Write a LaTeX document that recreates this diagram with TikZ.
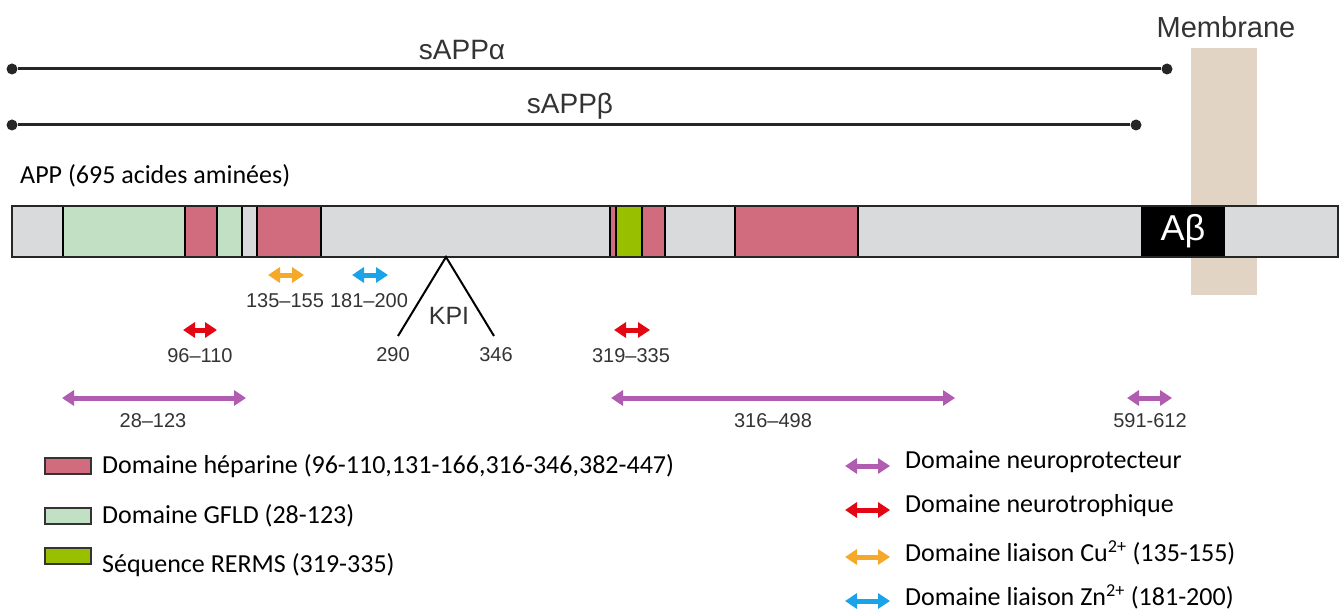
\documentclass[tikz,border=0pt]{standalone}
\usepackage{fontspec}
\setmainfont{Carlito}
\newfontfamily\arialfont{Liberation Sans}
\usetikzlibrary{arrows.meta}
\definecolor{hepcol}{RGB}{208,108,125}
\definecolor{gfldcol}{RGB}{194,224,196}
\definecolor{rermscol}{RGB}{153,192,0}
\definecolor{barcol}{RGB}{217,218,220}
\definecolor{memcol}{RGB}{226,212,196}
\definecolor{cucol}{RGB}{246,168,40}
\definecolor{zncol}{RGB}{26,163,232}
\definecolor{trocol}{RGB}{227,6,19}
\definecolor{procol}{RGB}{176,92,176}
\definecolor{labcol}{RGB}{51,51,51}
\tikzset{
  dom/.style={draw=black, line width=1.5pt},
  dblarrow/.style={line width=5pt, {Triangle[length=12pt,width=15pt]}-{Triangle[length=12pt,width=15pt]}},
  numlab/.style={font=\arialfont\fontsize{20}{20}\selectfont, text=labcol},
  leglab/.style={font=\fontsize{26}{26}\selectfont, anchor=west, inner sep=0pt},
  legbox/.style={draw=black!80, line width=2pt, minimum width=46pt, minimum height=16pt, inner sep=0pt},
  fragline/.style={line width=3pt, black!85},
  enddot/.style={circle, fill=black!85, inner sep=0pt, minimum size=11pt}
}
\begin{document}
\begin{tikzpicture}[x=1pt,y=-1pt]
\useasboundingbox (0,0) rectangle (1343,612);
% membrane
\fill[memcol] (1191,48) rectangle (1257,295);
\node[font=\arialfont\fontsize{29}{29}\selectfont, text=labcol] (memlab) at (1226,27) {Membrane};
% fragments sAPP
\node[enddot] (sa1) at (12,69) {};
\node[enddot] (sa2) at (1167,69) {};
\draw[fragline] (sa1) -- (sa2);
\node[font=\arialfont\fontsize{28}{28}\selectfont, text=labcol] (salab) at (462,50) {sAPPα};
\node[enddot] (sb1) at (12,125) {};
\node[enddot] (sb2) at (1136,125) {};
\draw[fragline] (sb1) -- (sb2);
\node[font=\arialfont\fontsize{28}{28}\selectfont, text=labcol] (sblab) at (570,106) {sAPPβ};
% APP
\node[font=\fontsize{26}{26}\selectfont, anchor=west, inner sep=0pt] (applab) at (20,176) {APP (695 acides aminées)};
\fill[barcol] (12,206) rectangle (1338,257);
\foreach \a/\b/\c in {63/185/gfldcol, 185/217/hepcol, 217/242/gfldcol, 257/321/hepcol,
    610/616/hepcol, 616/642/rermscol, 642/665/hepcol, 735/858/hepcol, 1142/1224/black}{
  \draw[dom, fill=\c] (\a,206) rectangle (\b,257);
}
\draw[dom] (242,206) -- (242,257);
\node[font=\arialfont\fontsize{36}{36}\selectfont, text=white] (abeta) at (1183,231) {Aβ};
\draw[line width=2.5pt, black!85] (12,206) rectangle (1338,257);
% KPI
\coordinate (kpi) at (446,257);
\coordinate (kpiL) at (398,336);
\coordinate (kpiR) at (494,336);
\draw[line width=2pt] (kpiL) -- (kpi) -- (kpiR);
\node[font=\arialfont\fontsize{25}{25}\selectfont, text=labcol] (kpilab) at (449,316) {KPI};
\node[numlab] (n290) at (393,355) {290};
\node[numlab] (n346) at (496,355) {346};
% domaines (fleches)
\coordinate (cu1) at (268,275); \coordinate (cu2) at (304,275);
\draw[dblarrow, cucol] (cu1) -- (cu2);
\node[numlab] (culab) at (285,301) {135–155};
\coordinate (zn1) at (352,275); \coordinate (zn2) at (388,275);
\draw[dblarrow, zncol] (zn1) -- (zn2);
\node[numlab] (znlab) at (369,301) {181–200};
\coordinate (tr1) at (183,330); \coordinate (tr2) at (217,330);
\draw[dblarrow, trocol] (tr1) -- (tr2);
\node[numlab] (trlab) at (200,356) {96–110};
\coordinate (tr3) at (614,330); \coordinate (tr4) at (650,330);
\draw[dblarrow, trocol] (tr3) -- (tr4);
\node[numlab] (trlabb) at (631,356) {319–335};
\coordinate (pr1) at (62,398); \coordinate (pr2) at (246,398);
\draw[dblarrow, procol] (pr1) -- (pr2);
\node[numlab] (prlab) at (153,421) {28–123};
\coordinate (pr3) at (611,398); \coordinate (pr4) at (955,398);
\draw[dblarrow, procol] (pr3) -- (pr4);
\node[numlab] (prlabb) at (773,421) {316–498};
\coordinate (pr5) at (1127,398); \coordinate (pr6) at (1172,398);
\draw[dblarrow, procol] (pr5) -- (pr6);
\node[numlab] (prlabc) at (1150,421) {591-612};
% legende
\node[legbox, fill=hepcol] (lg1) at (68,466) {};
\node[leglab] (lt1) at (102,466) {Domaine héparine (96-110,131-166,316-346,382-447)};
\node[legbox, fill=gfldcol] (lg2) at (68,516) {};
\node[leglab] (lt2) at (102,516) {Domaine GFLD (28-123)};
\node[legbox, fill=rermscol] (lg3) at (68,556) {};
\node[leglab] (lt3) at (102,565) {Séquence RERMS (319-335)};
\foreach \y/\c/\t in {466/procol/Domaine neuroprotecteur, 510/trocol/Domaine neurotrophique,
    557/cucol/{Domaine liaison Cu\textsuperscript{2+} (135-155)},
    601/zncol/{Domaine liaison Zn\textsuperscript{2+} (181-200)}}{
  \coordinate (la\y) at (845,\y); \coordinate (lb\y) at (890,\y);
  \draw[dblarrow, \c] (la\y) -- (lb\y);
  \node[leglab] (lt\y) at (905,\y-4) {\t};
}
\end{tikzpicture}
\end{document}
